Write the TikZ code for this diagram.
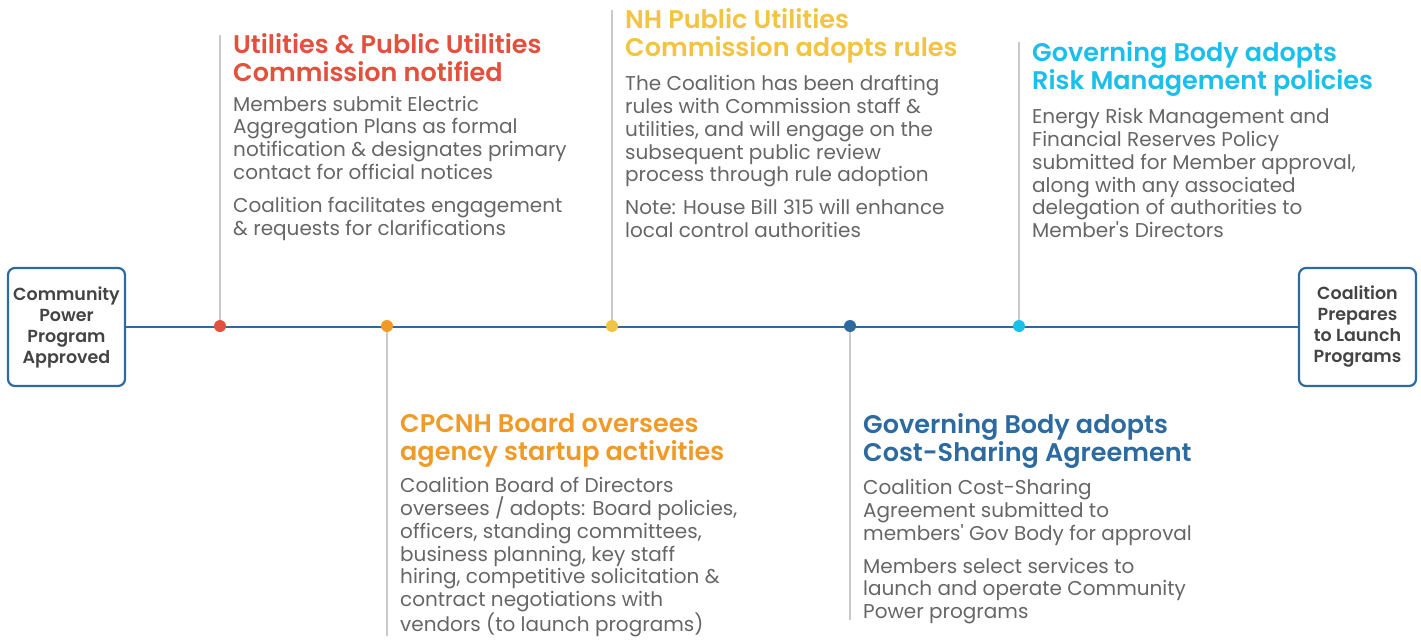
\documentclass[tikz,border=0pt]{standalone}
\usepackage{fontspec}
\setmainfont{Poppins}
\newfontfamily\semifont{Poppins SemiBold}
\usetikzlibrary{positioning}
\definecolor{tlRed}{HTML}{E2503E}
\definecolor{tlOrange}{HTML}{F09A28}
\definecolor{tlYellow}{HTML}{F2C443}
\definecolor{tlNavy}{HTML}{2C6AA0}
\definecolor{tlCyan}{HTML}{1BBFEA}
\definecolor{tlText}{HTML}{666666}
\definecolor{tlBox}{HTML}{444444}
\definecolor{tlStem}{HTML}{C9C9C9}
\tikzset{
	endbox/.style= {
		draw=tlNavy, line width=2.2pt, rounded corners=7pt,
		minimum width=117pt, minimum height=118pt,
		inner sep=0, align=center, text=tlBox,
		font=\semifont\fontsize{17.5}{21}\selectfont
	},
	dot/.style= {circle, fill=#1, minimum size=12pt, inner sep=0},
	stem/.style= {draw=tlStem, line width=2pt},
	heading/.style= {
		anchor=north west, inner sep=0, align=left, text=#1,
		font=\semifont\fontsize{25.5}{28}\selectfont
	},
	body/.style= {
		inner sep=0, align=left, text=tlText,
		font=\fontsize{20}{22.8}\selectfont
	}
}

\begin{document}
\begin{tikzpicture}[x=1pt,y=-1pt]
\useasboundingbox (0,0) rectangle (1421,640);

% start and end of the timeline
\node[endbox] (start) at (66.5,327) {Community\\Power\\Program\\Approved};
\node[endbox] (finish) at (1357.5,327) {Coalition\\Prepares\\to Launch\\Programs};
\draw[tlNavy, line width=2.6pt] (start) -- (finish);

% milestones: name / x / colour / end of stem
\foreach \name/\x/\col/\yend in {red/220/tlRed/35, orange/387/tlOrange/636,
	yellow/612/tlYellow/10, navy/850/tlNavy/620, cyan/1019/tlCyan/42}{%
	\coordinate (e\name) at (\x,\yend);
	\draw[stem] (\x,326) -- (e\name);
	\node[dot=\col] (d\name) at (\x,326) {};
}

% top texts
\node[heading=tlRed] (hred) at (233,33) {Utilities \& Public Utilities\\Commission notified};
\node[body, below right=14pt and 0pt of hred.south west] (bred) {Members submit Electric\\Aggregation Plans as formal\\notification \& designates primary\\contact for official notices\\[10pt]Coalition facilitates engagement\\\& requests for clarifications};

\node[heading=tlYellow] (hyellow) at (625,8) {NH Public Utilities\\Commission adopts rules};
\node[body, below right=12pt and 0pt of hyellow.south west] (byellow) {The Coalition has been drafting\\rules with Commission staff \&\\utilities, and will engage on the\\subsequent public review\\process through rule adoption\\[10pt]Note: House Bill 315 will enhance\\local control authorities};

\node[heading=tlCyan] (hcyan) at (1032,41) {Governing Body adopts\\Risk Management policies};
\node[body, below right=12pt and 0pt of hcyan.south west] (bcyan) {Energy Risk Management and\\Financial Reserves Policy\\submitted for Member approval,\\along with any associated\\delegation of authorities to\\Member\textquotesingle s Directors};

% bottom texts
\node[heading=tlOrange] (horange) at (400,413) {CPCNH Board oversees\\agency startup activities};
\node[body, below right=10pt and 0pt of horange.south west] (borange) {Coalition Board of Directors\\oversees / adopts: Board policies,\\officers, standing committees,\\business planning, key staff\\hiring, competitive solicitation \&\\contract negotiations with\\vendors (to launch programs)};

\node[heading=tlNavy] (hnavy) at (863,413) {Governing Body adopts\\Cost-Sharing Agreement};
\node[body, below right=11pt and 0pt of hnavy.south west] (bnavy) {Coalition Cost-Sharing\\Agreement submitted to\\members\textquotesingle\ Gov Body for approval\\[10pt]Members select services to\\launch and operate Community\\Power programs};
\end{tikzpicture}
\end{document}
